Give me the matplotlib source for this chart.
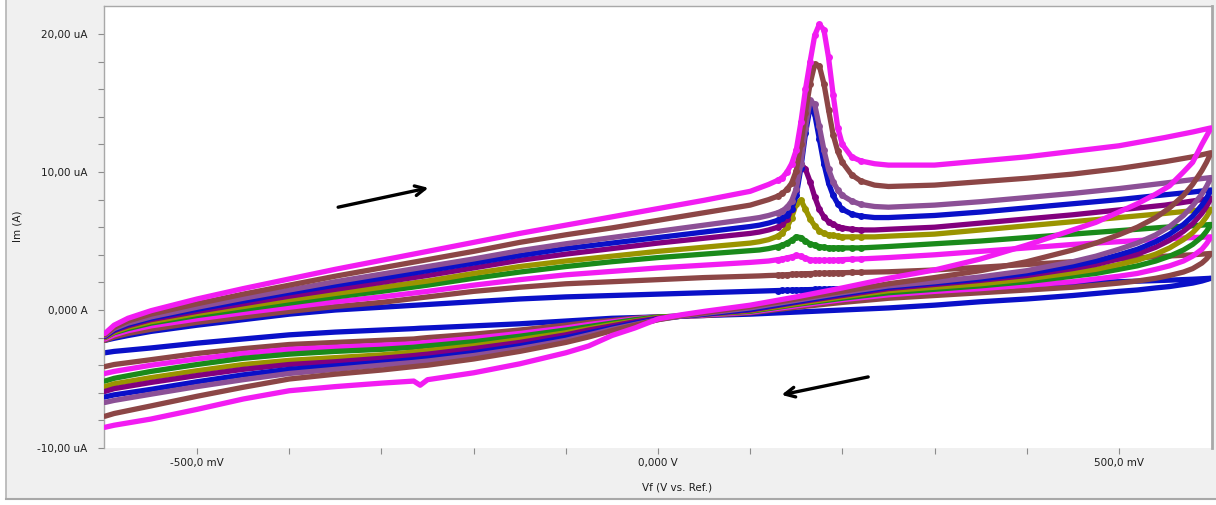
import matplotlib
matplotlib.use("Agg")
import matplotlib.pyplot as plt
from matplotlib.patches import Rectangle
from matplotlib.lines import Line2D
from matplotlib.ticker import FixedLocator

# ---------------------------------------------------------------------------
# Cyclic voltammetry, 10 consecutive cycles: potential (mV) vs current (uA)
# ---------------------------------------------------------------------------
FWD_MV = [-600, -590, -575, -550, -500, -450, -400, -350, -300, -250, -200,
          -150, -100, -50, 0, 50, 100, 110, 120, 130, 135, 140, 145, 150,
          155, 160, 165, 170, 175, 180, 185, 190, 195, 200, 210, 220, 235,
          250, 300, 350, 400, 450, 500, 550, 580, 600]

REV_MV = [600, 595, 590, 580, 570, 555, 540, 520, 500, 475, 450, 400, 350,
          300, 250, 200, 150, 100, 50, 25, 0, -25, -50, -75, -100, -150,
          -200, -250, -258, -265, -300, -350, -400, -450, -500, -550, -590,
          -600]

# anodic (forward) sweeps
fwd_c1 = [-2.2, -2.05, -1.85, -1.55, -1.1, -0.7, -0.3, 0.0, 0.2, 0.4, 0.6,
          0.8, 0.95, 1.05, 1.15, 1.25, 1.35, 1.37, 1.39, 1.41, 1.42, 1.43,
          1.44, 1.45, 1.46, 1.47, 1.48, 1.49, 1.5, 1.51, 1.52, 1.53, 1.54,
          1.55, 1.56, 1.57, 1.59, 1.6, 1.68, 1.76, 1.85, 1.95, 2.05, 2.15,
          2.23, 2.3]
fwd_c2 = [-2.2, -1.95, -1.7, -1.4, -0.9, -0.5, -0.1, 0.25, 0.55, 0.95, 1.35,
          1.65, 1.9, 2.05, 2.2, 2.35, 2.45, 2.47, 2.5, 2.52, 2.54, 2.56,
          2.58, 2.6, 2.62, 2.63, 2.64, 2.65, 2.66, 2.67, 2.68, 2.69, 2.7,
          2.7, 2.72, 2.73, 2.75, 2.77, 2.9, 3.1, 3.3, 3.5, 3.7, 3.9, 4.0, 4.1]
fwd_c3 = [-2.1, -1.8, -1.5, -1.15, -0.65, -0.2, 0.2, 0.6, 0.95, 1.35, 1.8,
          2.2, 2.55, 2.8, 3.05, 3.25, 3.45, 3.5, 3.55, 3.65, 3.7, 3.78, 3.85,
          3.95, 3.9, 3.75, 3.65, 3.6, 3.6, 3.6, 3.6, 3.6, 3.62, 3.65, 3.68,
          3.7, 3.75, 3.8, 4.0, 4.25, 4.5, 4.75, 4.95, 5.15, 5.25, 5.3]
fwd_c4 = [-2.0, -1.65, -1.35, -0.95, -0.4, 0.05, 0.5, 0.95, 1.35, 1.8, 2.3,
          2.75, 3.15, 3.5, 3.8, 4.05, 4.3, 4.35, 4.45, 4.6, 4.7, 4.85, 5.05,
          5.3, 5.25, 5.0, 4.8, 4.7, 4.6, 4.55, 4.5, 4.5, 4.5, 4.5, 4.5, 4.5,
          4.55, 4.6, 4.8, 5.0, 5.25, 5.5, 5.75, 6.0, 6.1, 6.2]
fwd_c5 = [-2.0, -1.6, -1.25, -0.85, -0.25, 0.25, 0.75, 1.2, 1.65, 2.1, 2.65,
          3.15, 3.55, 3.9, 4.25, 4.55, 4.85, 4.95, 5.1, 5.35, 5.6, 6.0, 6.7,
          7.7, 7.95, 7.3, 6.6, 6.1, 5.75, 5.55, 5.45, 5.4, 5.35, 5.3, 5.3,
          5.3, 5.3, 5.35, 5.5, 5.8, 6.1, 6.4, 6.7, 7.0, 7.2, 7.3]
fwd_c6 = [-1.95, -1.5, -1.15, -0.7, -0.1, 0.45, 1.0, 1.5, 2.0, 2.5, 3.05,
          3.6, 4.05, 4.45, 4.85, 5.2, 5.55, 5.65, 5.8, 6.0, 6.2, 6.6, 7.3,
          8.6, 10.6, 10.2, 9.3, 8.2, 7.3, 6.75, 6.4, 6.2, 6.05, 5.95, 5.85,
          5.8, 5.8, 5.85, 6.0, 6.3, 6.6, 6.9, 7.25, 7.6, 7.9, 8.1]
fwd_c7 = [-1.9, -1.45, -1.05, -0.6, 0.05, 0.65, 1.25, 1.8, 2.3, 2.85, 3.4,
          3.95, 4.45, 4.85, 5.25, 5.65, 6.05, 6.15, 6.3, 6.5, 6.65, 6.9,
          7.35, 8.3, 10.3, 12.8, 14.7, 14.2, 12.4, 10.6, 9.2, 8.3, 7.7, 7.3,
          6.95, 6.8, 6.7, 6.7, 6.85, 7.1, 7.4, 7.7, 8.0, 8.35, 8.55, 8.7]
fwd_c8 = [-1.85, -1.35, -0.95, -0.5, 0.2, 0.85, 1.45, 2.05, 2.6, 3.15, 3.7,
          4.3, 4.8, 5.25, 5.7, 6.15, 6.6, 6.7, 6.85, 7.05, 7.2, 7.45, 7.9,
          8.8, 10.6, 13.2, 15.2, 14.9, 13.3, 11.6, 10.2, 9.3, 8.7, 8.3, 7.9,
          7.65, 7.5, 7.45, 7.6, 7.85, 8.15, 8.45, 8.8, 9.2, 9.45, 9.6]
fwd_c9 = [-1.8, -1.25, -0.8, -0.3, 0.45, 1.15, 1.8, 2.45, 3.05, 3.65, 4.25,
          4.9, 5.45, 5.95, 6.5, 7.05, 7.6, 7.8, 8.0, 8.25, 8.45, 8.75, 9.2,
          10.1, 12.0, 14.3, 16.4, 17.8, 17.7, 16.4, 14.5, 12.7, 11.5, 10.7,
          9.8, 9.35, 9.05, 8.95, 9.05, 9.3, 9.55, 9.85, 10.25, 10.75, 11.1,
          11.4]
fwd_c10 = [-1.7, -1.1, -0.6, -0.05, 0.8, 1.55, 2.25, 2.95, 3.6, 4.25, 4.9,
           5.55, 6.15, 6.75, 7.35, 7.95, 8.6, 8.85, 9.1, 9.4, 9.6, 10.0,
           10.6, 11.6, 13.6, 16.0, 18.0, 19.9, 20.7, 20.3, 18.3, 15.6, 13.2,
           12.0, 11.1, 10.8, 10.6, 10.5, 10.5, 10.8, 11.1, 11.5, 11.9, 12.5,
           12.9, 13.2]

# cathodic (reverse) sweeps
rev_c1 = [2.3, 2.2, 2.1, 1.95, 1.85, 1.7, 1.6, 1.45, 1.35, 1.2, 1.05, 0.8,
          0.6, 0.35, 0.15, 0.0, -0.15, -0.3, -0.4, -0.45, -0.5, -0.55, -0.6,
          -0.7, -0.8, -1.0, -1.15, -1.3, -1.32, -1.35, -1.45, -1.6, -1.8,
          -2.1, -2.4, -2.75, -3.0, -3.1]
rev_c2 = [4.1, 3.7, 3.4, 3.0, 2.75, 2.5, 2.3, 2.1, 1.95, 1.8, 1.65, 1.45,
          1.25, 1.05, 0.85, 0.55, 0.2, -0.2, -0.4, -0.45, -0.5, -0.6, -0.75,
          -0.9, -1.1, -1.45, -1.75, -2.0, -2.05, -2.1, -2.2, -2.35, -2.5,
          -2.8, -3.15, -3.6, -3.95, -4.1]
rev_c3 = [5.3, 4.8, 4.4, 3.9, 3.55, 3.2, 2.95, 2.65, 2.45, 2.25, 2.05, 1.8,
          1.55, 1.35, 1.1, 0.75, 0.3, -0.15, -0.35, -0.45, -0.5, -0.65,
          -0.85, -1.05, -1.3, -1.7, -2.05, -2.35, -2.4, -2.45, -2.55, -2.7,
          -2.85, -3.15, -3.55, -4.0, -4.45, -4.6]
rev_c4 = [6.2, 5.7, 5.3, 4.75, 4.35, 3.9, 3.55, 3.2, 2.95, 2.65, 2.45, 2.05,
          1.75, 1.5, 1.25, 0.85, 0.4, -0.1, -0.3, -0.45, -0.5, -0.7, -0.95,
          -1.2, -1.45, -1.9, -2.3, -2.6, -2.65, -2.7, -2.85, -3.0, -3.2,
          -3.5, -3.95, -4.45, -4.95, -5.15]
rev_c5 = [7.3, 6.75, 6.3, 5.6, 5.1, 4.5, 4.05, 3.6, 3.3, 2.95, 2.7, 2.25,
          1.9, 1.65, 1.4, 0.95, 0.45, -0.05, -0.3, -0.45, -0.55, -0.8, -1.05,
          -1.35, -1.65, -2.15, -2.6, -2.95, -3.0, -3.05, -3.25, -3.45, -3.65,
          -3.95, -4.4, -4.9, -5.35, -5.55]
rev_c6 = [8.1, 7.5, 7.0, 6.25, 5.7, 5.05, 4.55, 4.05, 3.7, 3.3, 3.0, 2.5,
          2.15, 1.85, 1.55, 1.05, 0.55, 0.0, -0.3, -0.45, -0.6, -0.85, -1.15,
          -1.45, -1.8, -2.35, -2.8, -3.2, -3.25, -3.3, -3.5, -3.75, -3.95,
          -4.3, -4.75, -5.25, -5.7, -5.9]
rev_c7 = [8.7, 8.1, 7.6, 6.8, 6.2, 5.5, 4.95, 4.4, 4.0, 3.55, 3.2, 2.65,
          2.25, 1.95, 1.65, 1.15, 0.6, 0.05, -0.3, -0.45, -0.65, -0.95, -1.3,
          -1.65, -2.0, -2.6, -3.1, -3.5, -3.55, -3.6, -3.8, -4.05, -4.3,
          -4.7, -5.2, -5.75, -6.15, -6.3]
rev_c8 = [9.6, 8.95, 8.4, 7.55, 6.85, 6.05, 5.45, 4.85, 4.4, 3.9, 3.5, 2.85,
          2.4, 2.05, 1.75, 1.25, 0.7, 0.15, -0.25, -0.45, -0.7, -1.05, -1.4,
          -1.8, -2.2, -2.8, -3.3, -3.7, -3.75, -3.8, -4.0, -4.3, -4.6, -5.05,
          -5.55, -6.1, -6.55, -6.7]
rev_c9 = [11.4, 10.7, 10.1, 9.1, 8.3, 7.4, 6.7, 6.0, 5.45, 4.85, 4.35, 3.5,
          2.85, 2.35, 1.9, 1.35, 0.8, 0.25, -0.2, -0.4, -0.7, -1.1, -1.5,
          -1.95, -2.35, -3.0, -3.55, -4.0, -4.05, -4.1, -4.35, -4.65, -5.0,
          -5.6, -6.25, -6.95, -7.5, -7.7]
rev_c10 = [13.2, 12.6, 12.0, 10.7, 10.0, 9.0, 8.4, 7.7, 7.1, 6.35, 5.8, 4.7,
           3.7, 2.9, 2.3, 1.6, 0.95, 0.35, -0.1, -0.35, -0.65, -1.3, -1.85,
           -2.6, -3.1, -3.9, -4.55, -5.05, -5.45, -5.15, -5.3, -5.55, -5.85,
           -6.45, -7.2, -7.9, -8.35, -8.5]

CYCLE_COLORS = ["#0A10C8", "#8C4646", "#F21CF2", "#1A8A1A", "#9A9400",
                "#82007E", "#0A10C8", "#8C5096", "#8C4646", "#F21CF2"]

X_MAJOR = [-500, 0, 500]
X_MAJOR_LABELS = ["-500,0 mV", "0,000 V", "500,0 mV"]
X_MINOR = [-400, -300, -200, -100, 100, 200, 300, 400]
Y_MAJOR = [-10, 0, 10, 20]
Y_MAJOR_LABELS = ["-10,00 uA", "0,000 A", "10,00 uA", "20,00 uA"]
Y_MINOR = [-8, -6, -4, -2, 2, 4, 6, 8, 12, 14, 16, 18]

FWD = [fwd_c1, fwd_c2, fwd_c3, fwd_c4, fwd_c5, fwd_c6, fwd_c7, fwd_c8,
       fwd_c9, fwd_c10]
REV = [rev_c1, rev_c2, rev_c3, rev_c4, rev_c5, rev_c6, rev_c7, rev_c8,
       rev_c9, rev_c10]

# ---------------------------------------------------------------------------
W, H = 1216, 505
plt.rcParams["font.family"] = ["DejaVu Sans"]
fig = plt.figure(figsize=(W / 100, H / 100), dpi=100)
fig.patch.set_facecolor("white")

# window panel behind the graph
fig.patches.append(Rectangle((6 / W, 1 - 499 / H), 1 - 6 / W, 499 / H,
                             transform=fig.transFigure, facecolor="#F0F0F0",
                             edgecolor="none", zorder=-10))
fig.add_artist(Line2D([6 / W, 6 / W], [1 - 499 / H, 1],
                      transform=fig.transFigure, color="#B4B4B4", lw=1.2))
fig.add_artist(Line2D([6 / W, 1], [1 - 499 / H, 1 - 499 / H],
                      transform=fig.transFigure, color="#A8A8A8", lw=1.5))

ax = fig.add_axes([104 / W, 1 - 448 / H, (1212 - 104) / W, (448 - 6) / H])
ax.set_facecolor("white")

# points of the sweep that fall on the oxidation peak are shown as dots
n_fwd = len(FWD_MV)
peak_idx = [k for k, v in enumerate(FWD_MV) if 130 <= v <= 220]

for i, (f, r, c) in enumerate(zip(FWD, REV, CYCLE_COLORS)):
    ax.plot(FWD_MV + REV_MV, f + r, color=c, lw=3.8,
            solid_joinstyle="round", solid_capstyle="round", zorder=2 + i)
    ax.plot(FWD_MV, f, ls="none", marker="o", ms=5.0, mew=0, color=c,
            markevery=peak_idx, zorder=2 + i)

ax.set_xlim(-601, 601)
ax.set_ylim(-10, 22.03)

ax.xaxis.set_major_locator(FixedLocator(X_MAJOR))
ax.set_xticklabels(X_MAJOR_LABELS)
ax.xaxis.set_minor_locator(FixedLocator(X_MINOR))
ax.yaxis.set_major_locator(FixedLocator(Y_MAJOR))
ax.set_yticklabels(Y_MAJOR_LABELS)
ax.yaxis.set_minor_locator(FixedLocator(Y_MINOR))

ax.tick_params(axis="both", which="both", direction="out", length=4,
               width=0.8, color="#8C8C8C", labelsize=7.5,
               labelcolor="#1E1E1E")
ax.tick_params(axis="x", which="both", pad=3)
ax.tick_params(axis="y", which="both", pad=8)

for side in ("left", "top", "right"):
    ax.spines[side].set_color("#A8A8A8")
    ax.spines[side].set_linewidth(1.0)
ax.spines["right"].set_linewidth(2.0)
ax.spines["bottom"].set_visible(False)

fig.text(18 / W, 1 - 226 / H, "Im (A)", rotation=90, ha="center",
         va="center", fontsize=7.5, color="#1E1E1E")
fig.text(677 / W, 1 - 487 / H, "Vf (V vs. Ref.)", ha="center", va="center",
         fontsize=7.5, color="#1E1E1E")

# sweep-direction arrows
arrow_style = dict(arrowstyle="->,head_length=0.7,head_width=0.35", lw=2.4,
                   color="black", shrinkA=0, shrinkB=0)
ax.annotate("", xy=(-249, 8.85), xytext=(-347, 7.45), arrowprops=arrow_style,
            zorder=20)
ax.annotate("", xy=(134, -6.15), xytext=(228, -4.85), arrowprops=arrow_style,
            zorder=20)

fig.savefig("out.png", dpi=100, facecolor=fig.get_facecolor())
